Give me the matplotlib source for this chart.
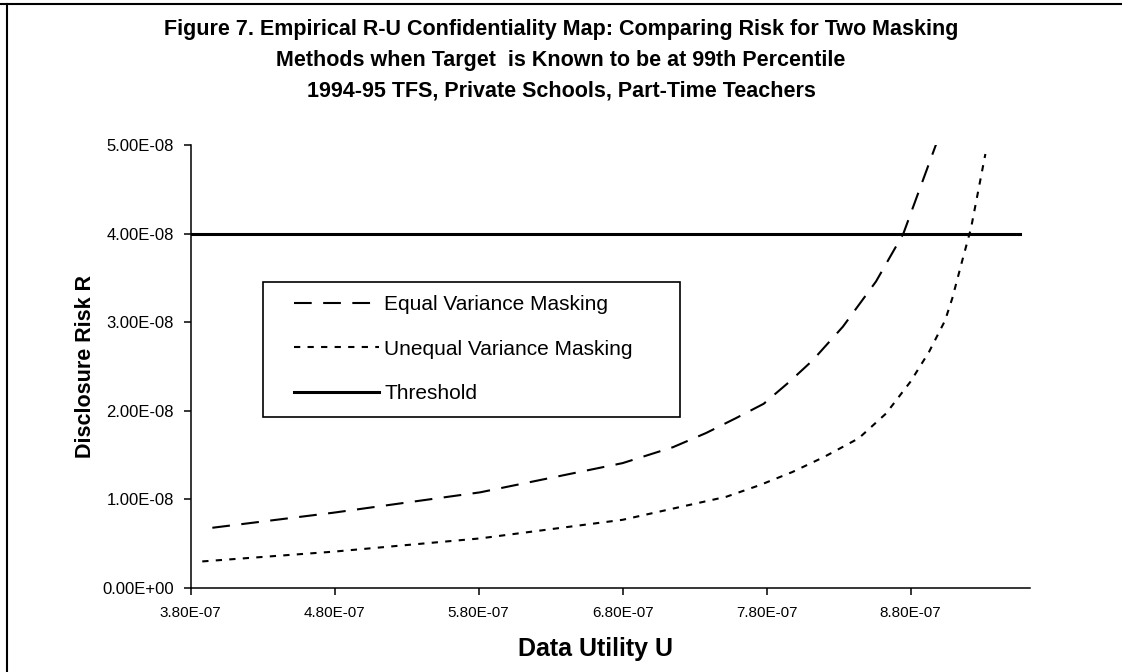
import matplotlib
matplotlib.use("Agg")
import matplotlib.pyplot as plt
from matplotlib.lines import Line2D
from matplotlib.patches import Rectangle
from matplotlib.ticker import FuncFormatter, MultipleLocator

# Equal variance masking (U, R)
equal_u = [3.95e-7, 4.79e-7, 5.81e-7, 6.80e-7, 7.15e-7, 7.38e-7, 7.59e-7, 7.78e-7,
           7.96e-7, 8.12e-7, 8.33e-7, 8.56e-7, 8.75e-7, 8.98e-7]
equal_r = [0.68e-8, 0.85e-8, 1.08e-8, 1.41e-8, 1.59e-8, 1.75e-8, 1.92e-8, 2.08e-8,
           2.33e-8, 2.57e-8, 2.95e-8, 3.46e-8, 4.00e-8, 5.02e-8]

# Unequal variance masking (U, R)
unequal_u = [3.88e-7, 4.79e-7, 5.81e-7, 6.80e-7, 7.27e-7, 7.52e-7, 7.75e-7, 7.98e-7,
             8.20e-7, 8.44e-7, 8.63e-7, 8.80e-7, 8.93e-7, 9.04e-7, 9.09e-7, 9.16e-7,
             9.22e-7, 9.32e-7]
unequal_r = [0.30e-8, 0.41e-8, 0.56e-8, 0.77e-8, 0.94e-8, 1.03e-8, 1.16e-8, 1.31e-8,
             1.48e-8, 1.69e-8, 1.97e-8, 2.33e-8, 2.67e-8, 3.02e-8, 3.27e-8, 3.70e-8,
             4.06e-8, 4.90e-8]

threshold_u = [3.80e-7, 9.56e-7]
threshold_r = [4.0e-8, 4.0e-8]

x_ticks = [3.8e-7, 4.8e-7, 5.8e-7, 6.8e-7, 7.8e-7, 8.8e-7]

plt.rcParams["font.family"] = ["Liberation Sans", "DejaVu Sans"]

fig = plt.figure(figsize=(11.22, 6.72), dpi=100)
ax = fig.add_axes([0.170, 0.125, 0.748, 0.659])

ax.plot(equal_u, equal_r, color="black", lw=1.5, linestyle=(0, (8.5, 5.5)),
        label="Equal Variance Masking")
ax.plot(unequal_u, unequal_r, color="black", lw=1.5, linestyle=(0, (3, 3.5)),
        label="Unequal Variance Masking")
ax.plot(threshold_u, threshold_r, color="black", lw=2.2, label="Threshold")

ax.set_xlim(3.8e-7, 9.63e-7)
ax.set_ylim(0, 5e-8)
ax.yaxis.set_major_locator(MultipleLocator(1e-8))
fmt = FuncFormatter(lambda v, p: f"{v:.2E}")
ax.xaxis.set_major_formatter(fmt)
ax.yaxis.set_major_formatter(fmt)
ax.set_xticks(x_ticks)

for s in ["top", "right"]:
    ax.spines[s].set_visible(False)
for s in ["left", "bottom"]:
    ax.spines[s].set_linewidth(1.1)
ax.tick_params(direction="out", length=5, width=1.1, pad=8)
ax.tick_params(axis="y", labelsize=12, pad=7)
ax.tick_params(axis="x", labelsize=11)

ax.set_xlabel("Data Utility U", fontsize=18, fontweight="bold", labelpad=12)
ax.xaxis.label.set_x(0.482)
ax.set_ylabel("Disclosure Risk R", fontsize=15.5, fontweight="bold", labelpad=5)

fig.suptitle("Figure 7. Empirical R-U Confidentiality Map: Comparing Risk for Two Masking\n"
             "Methods when Target  is Known to be at 99th Percentile\n"
             "1994-95 TFS, Private Schools, Part-Time Teachers",
             fontsize=15.5, fontweight="bold", y=0.971, linespacing=1.6)

# legend box drawn separately so the handles can sit inset from its left edge
ax.add_patch(Rectangle((0.086, 0.386), 0.497, 0.305, transform=ax.transAxes,
                       fill=True, facecolor="white", edgecolor="black", lw=1.2,
                       zorder=4))
leg = ax.legend(loc="upper left", bbox_to_anchor=(0.109, 0.687), fontsize=15,
                frameon=False, handlelength=4.1, handletextpad=0.25, borderpad=0.55,
                labelspacing=1.22, borderaxespad=0)
leg.set_zorder(5)

# figure border (top and left)
fig.add_artist(Line2D([0, 1], [1 - 4 / 672, 1 - 4 / 672], transform=fig.transFigure,
                      color="black", lw=1.5))
fig.add_artist(Line2D([7 / 1122, 7 / 1122], [0, 1 - 4 / 672], transform=fig.transFigure,
                      color="black", lw=1.5))

fig.savefig("out.png", dpi=100)
